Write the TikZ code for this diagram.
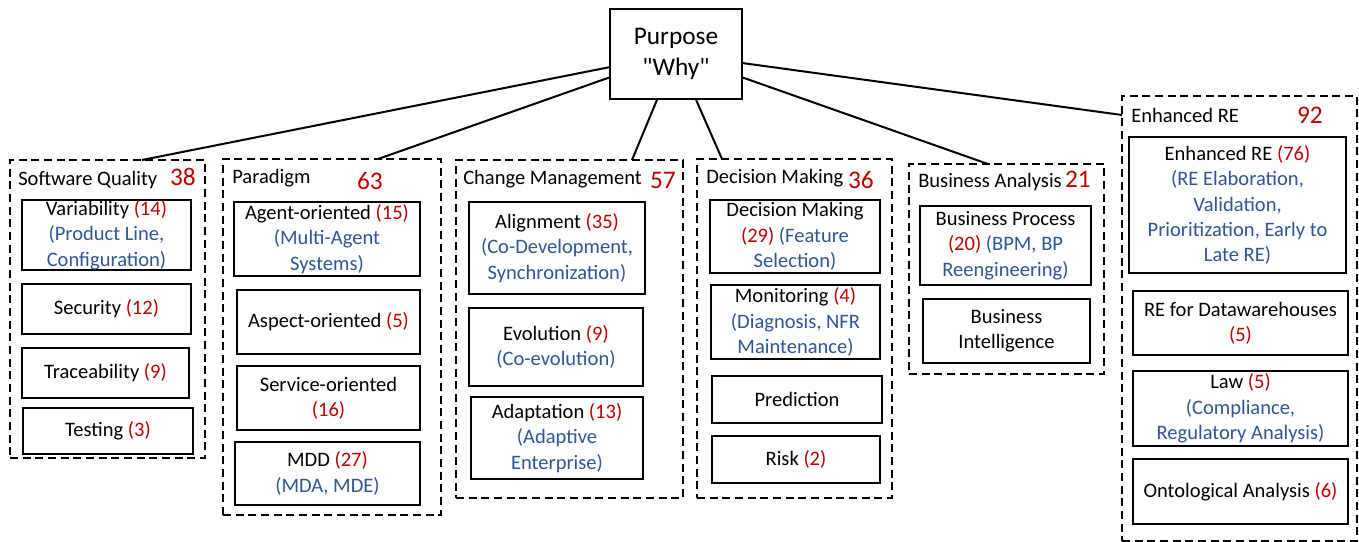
\documentclass[tikz,border=0pt]{standalone}
\usepackage{fontspec}
\setmainfont{Carlito}[Ligatures=TeXOff]
\definecolor{myred}{HTML}{C00000}
\definecolor{myblue}{HTML}{2F5496}
\newcommand\tred[1]{\textcolor{myred}{#1}}
\newcommand\tblue[1]{\textcolor{myblue}{#1}}
\newcommand\ibox[7][ib]{\node[#1, minimum width={(#5-#3)*0.75pt}, minimum height={(#6-#4)*0.75pt}] (#2) at ({(#3+#5)/2},{(#4+#6)/2}) {#7};}
\begin{document}
\begin{tikzpicture}[x=0.75pt,y=-0.75pt,
  ib/.style={draw, line width=1.5pt, inner sep=0pt, align=center, font=\fontsize{15.4}{19}\selectfont},
  rootbox/.style={ib, font=\fontsize{19}{23.5}\selectfont},
  grp/.style={draw, line width=1.5pt, dash pattern=on 6pt off 3.5pt, inner sep=0pt},
  gtitle/.style={anchor=base west, inner sep=0pt, font=\fontsize{15.4}{19}\selectfont},
  gnum/.style={anchor=base east, inner sep=0pt, text=myred, font=\fontsize{19}{23}\selectfont},
  conn/.style={line width=1.5pt}]
\useasboundingbox (0,0) rectangle (1359,542);
% root
\ibox[rootbox]{purpose}{610}{9}{742}{99}{Purpose\\"Why"}
% groups
\ibox[grp]{sq}{10}{160}{205}{458}{}
\ibox[grp]{par}{223}{159}{441}{515}{}
\ibox[grp]{cm}{456}{160}{683}{498}{}
\ibox[grp]{dm}{697}{159}{892}{498}{}
\ibox[grp]{ba}{909}{164}{1104}{374}{}
\ibox[grp]{ere}{1122}{96}{1357}{541}{}
% titles and numbers
\node[gtitle] (sqt) at (18,185) {Software Quality};
\node[gnum] (sqn) at (196,185) {38};
\node[gtitle] (part) at (232,183) {Paradigm};
\node[gnum] (parn) at (383,189) {63};
\node[gtitle] (cmt) at (463,184) {Change Management};
\node[gnum] (cmn) at (676,188) {57};
\node[gtitle] (dmt) at (706,183) {Decision Making};
\node[gnum] (dmn) at (874,188) {36};
\node[gtitle] (bat) at (918,187) {Business Analysis};
\node[gnum] (ban) at (1091,187) {21};
\node[gtitle] (eret) at (1131,122) {Enhanced RE};
\node[gnum] (eren) at (1323,123) {92};
% Software Quality
\ibox{var}{22}{200}{191}{270}{Variability \tred{(14)}\\\tblue{(Product Line,}\\\tblue{Configuration)}}
\ibox{sec}{22}{284}{191}{334}{Security \tred{(12)}}
\ibox{tra}{22}{348}{189}{398}{Traceability \tred{(9)}}
\ibox{tes}{23}{408}{193}{454}{Testing \tred{(3)}}
% Paradigm
\ibox{ago}{234}{202}{420}{276}{Agent-oriented \tred{(15)}\\\tblue{(Multi-Agent}\\\tblue{Systems)}}
\ibox{aso}{237}{290}{420}{354}{Aspect-oriented \tred{(5)}}
\ibox{seo}{237}{366}{420}{430}{Service-oriented\\\tred{(16)}}
\ibox{mdd}{235}{442}{420}{505}{MDD \tred{(27)}\\\tblue{(MDA, MDE)}}
% Change Management
\ibox{ali}{469}{202}{645}{294}{Alignment \tred{(35)}\\\tblue{(Co-Development,}\\\tblue{Synchronization)}}
\ibox{evo}{469}{308}{643}{386}{Evolution \tred{(9)}\\\tblue{(Co-evolution)}}
\ibox{ada}{471}{397}{643}{479}{Adaptation \tred{(13)}\\\tblue{(Adaptive}\\\tblue{Enterprise)}}
% Decision Making
\ibox{dmk}{710}{200}{880}{273}{Decision Making\\\tred{(29)} \tblue{(Feature}\\\tblue{Selection)}}
\ibox{mon}{711}{285}{880}{359}{Monitoring \tred{(4)}\\\tblue{(Diagnosis, NFR}\\\tblue{Maintenance)}}
\ibox{pre}{712}{376}{882}{423}{Prediction}
\ibox{ris}{712}{436}{880}{483}{Risk \tred{(2)}}
% Business Analysis
\ibox{bpr}{920}{206}{1091}{285}{Business Process\\\tred{(20)} \tblue{(BPM, BP}\\\tblue{Reengineering)}}
\ibox{bin}{923}{299}{1090}{363}{Business\\Intelligence}
% Enhanced RE
\ibox{erb}{1129}{137}{1346}{273}{Enhanced RE \tred{(76)}\\\tblue{(RE Elaboration,}\\\tblue{Validation,}\\\tblue{Prioritization, Early to}\\\tblue{Late RE)}}
\ibox{rdw}{1133}{291}{1348}{355}{RE for Datawarehouses\\\tred{(5)}}
\ibox{law}{1133}{371}{1348}{446}{Law \tred{(5)}\\\tblue{(Compliance,}\\\tblue{Regulatory Analysis)}}
\ibox{ont}{1133}{459}{1348}{524}{Ontological Analysis \tred{(6)}}
% connectors
\coordinate (sqT) at (142,160);
\coordinate (parT) at (378,159);
\coordinate (cmT) at (632,160);
\coordinate (dmT) at (722,159);
\coordinate (baT) at (988,164);
\coordinate (ereT) at (1122,115);
\draw[conn] (purpose) -- (sqT);
\draw[conn] (purpose) -- (parT);
\draw[conn] (purpose) -- (cmT);
\draw[conn] (purpose) -- (dmT);
\draw[conn] (purpose) -- (baT);
\draw[conn] (purpose) -- (ereT);
\end{tikzpicture}
\end{document}
